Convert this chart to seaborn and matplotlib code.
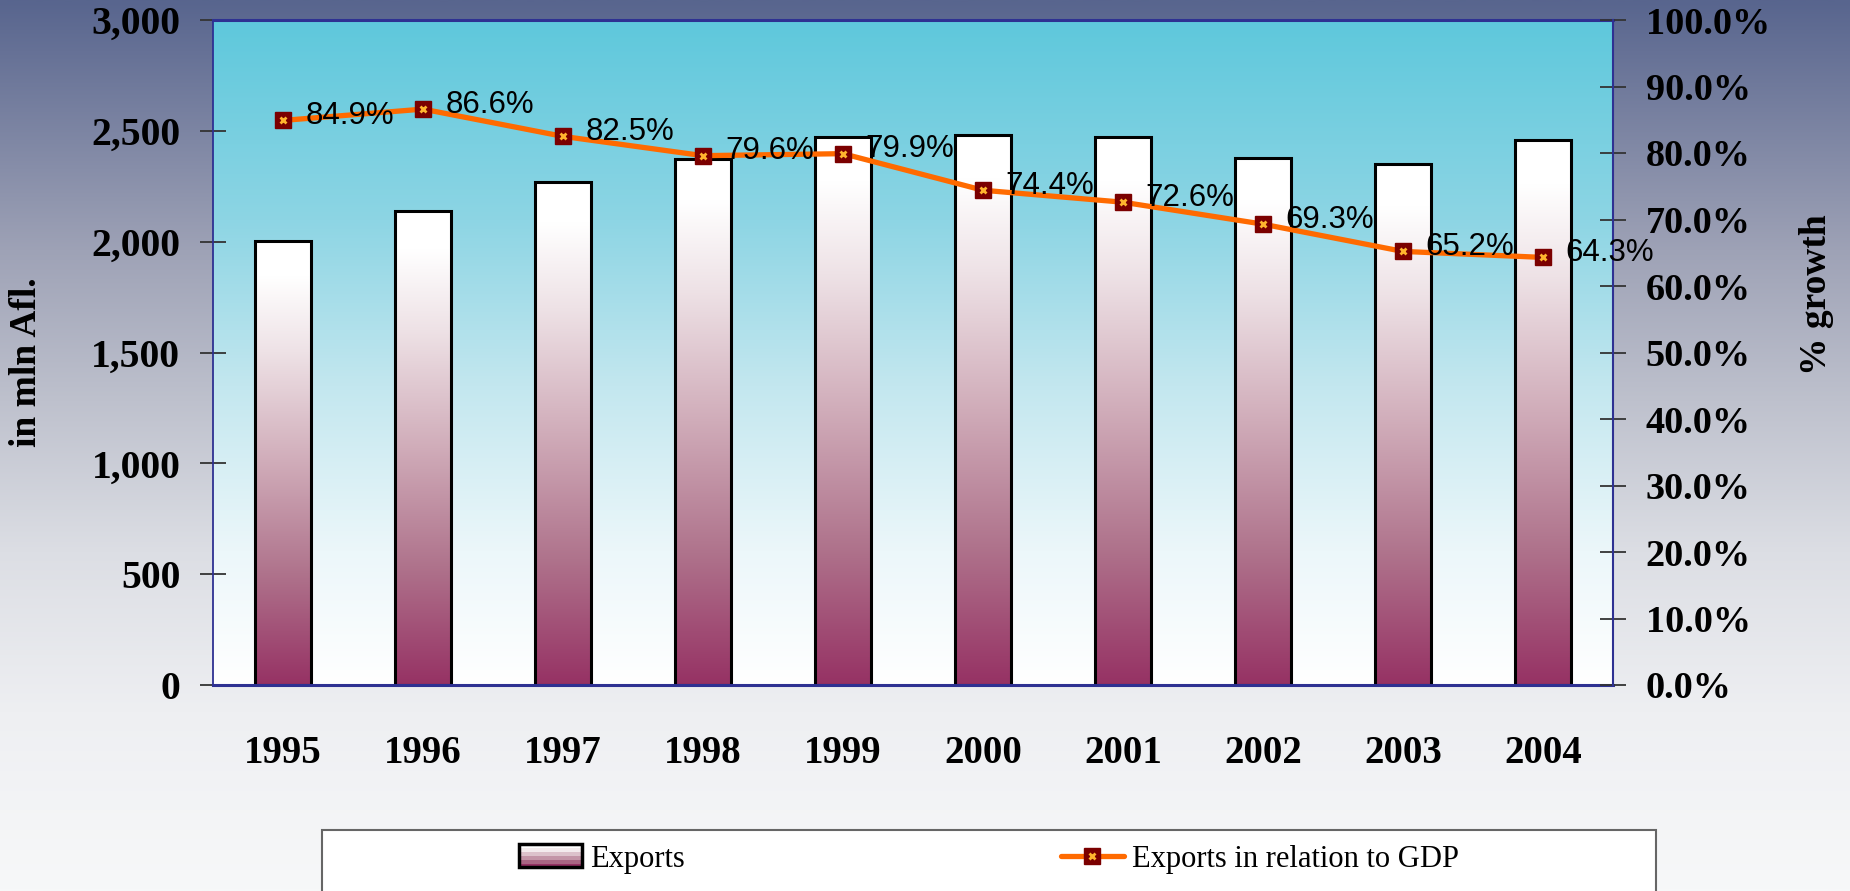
import numpy as np
import pandas as pd
import matplotlib
matplotlib.use("Agg")
import matplotlib.pyplot as plt
import seaborn as sns
from matplotlib.colors import LinearSegmentedColormap
from matplotlib.patches import Rectangle
from matplotlib.lines import Line2D
from matplotlib.legend_handler import HandlerBase, HandlerTuple
from matplotlib.ticker import StrMethodFormatter

# data
years = ['1995', '1996', '1997', '1998', '1999', '2000', '2001', '2002', '2003', '2004']
exports = [2005, 2137, 2268, 2375, 2472, 2483, 2472, 2377, 2350, 2458]
gdp_share = [84.9, 86.6, 82.5, 79.6, 79.9, 74.4, 72.6, 69.3, 65.2, 64.3]
left_ticks = [0, 500, 1000, 1500, 2000, 2500, 3000]
right_ticks = [0, 10, 20, 30, 40, 50, 60, 70, 80, 90, 100]
legend_labels = ['Exports', 'Exports in relation to GDP']

sns.set_style("white")
plt.rcParams['font.family'] = ['Liberation Serif', 'DejaVu Serif']
plt.rcParams['text.color'] = 'black'
plt.rcParams['xtick.color'] = 'black'
plt.rcParams['ytick.color'] = 'black'
plt.rcParams['xtick.labelcolor'] = 'black'
plt.rcParams['ytick.labelcolor'] = 'black'

# gradients
fig_cmap = LinearSegmentedColormap.from_list('figbg', [
    (0.0, '#58658e'), (0.28, '#9ea2b6'), (0.45, '#bec1cd'),
    (0.62, '#dcdee4'), (0.8, '#eeeff2'), (1.0, '#f7f8f9')])
plot_cmap = LinearSegmentedColormap.from_list('plotbg', [
    (0.0, '#5ec8dc'), (0.3, '#8dd5e4'), (0.55, '#c3e7ef'),
    (0.8, '#ecf7fa'), (1.0, '#ffffff')])
# 0 = bottom of bar, 1 = top
bar_cmap = LinearSegmentedColormap.from_list('bar', [
    (0.0, '#963264'), (0.25, '#af738c'), (0.5, '#d0acb9'),
    (0.75, '#eee2e6'), (0.92, '#ffffff'), (1.0, '#ffffff')])

fig_grad = fig_cmap(np.linspace(0, 1, 256))[:, None, :]
plot_grad = plot_cmap(np.linspace(0, 1, 256))[:, None, :]
bar_grad = bar_cmap(np.linspace(1, 0, 256))[:, None, :]

fig = plt.figure(figsize=(18.5, 8.91), dpi=100)

bg = fig.add_axes([0, 0, 1, 1], zorder=-3)
bg.imshow(fig_grad, aspect='auto', extent=[0, 1, 0, 1], interpolation='bilinear')
bg.axis('off')

rect = [213 / 1850, 1 - 685 / 891, 1400 / 1850, 665 / 891]
pbg = fig.add_axes(rect, zorder=-2)
pbg.imshow(plot_grad, aspect='auto', extent=[0, 1, 0, 1], interpolation='bilinear')
pbg.axis('off')

ax = fig.add_axes(rect)
ax.patch.set_visible(False)

df = pd.DataFrame({'Year': years, 'Exports': exports})
sns.barplot(data=df, x='Year', y='Exports', ax=ax, width=0.4, color='white',
            saturation=1, edgecolor='black', linewidth=2.2)

# fill each bar with the white -> maroon gradient
for p in list(ax.patches):
    x0, w, h = p.get_x(), p.get_width(), p.get_height()
    ax.imshow(bar_grad, extent=[x0, x0 + w, 0, h], aspect='auto',
              interpolation='bilinear', zorder=1.5)
    p.set_facecolor('none')
    p.set_zorder(2)

ax.set_xlim(-0.5, len(years) - 0.5)
ax.set_ylim(0, 3000)
ax.set_xlabel('')
ax.set_ylabel('')

ax.set_xticks(np.arange(len(years) + 1) - 0.5, labels=[''] * (len(years) + 1))
ax.set_xticks(range(len(years)), labels=years, minor=True)
ax.tick_params(axis='x', which='major', direction='inout', length=19, width=1.3, color='#333333')
ax.tick_params(axis='x', which='minor', length=0, pad=36, labelsize=28)
for t in ax.get_xticklabels(minor=True):
    t.set_fontweight('bold')

ax.set_yticks(left_ticks)
ax.yaxis.set_major_formatter(StrMethodFormatter('{x:,.0f}'))
ax.tick_params(axis='y', direction='inout', length=19, width=1.3, color='#333333',
               pad=14, labelsize=28.5)
for t in ax.get_yticklabels():
    t.set_fontweight('bold')

for side in ['top', 'left', 'bottom']:
    ax.spines[side].set_color('#2e3192')
ax.spines['top'].set_linewidth(2.2)
ax.spines['bottom'].set_linewidth(2.2)
ax.spines['left'].set_linewidth(1.3)
ax.spines['right'].set_visible(False)

ax2 = ax.twinx()
ax2.set_ylim(0, 100)
ax2.set_yticks(right_ticks)
ax2.yaxis.set_major_formatter(StrMethodFormatter('{x:.1f}%'))
ax2.tick_params(axis='y', direction='inout', length=19, width=1.3, color='#333333',
                pad=14, labelsize=27.5)
for t in ax2.get_yticklabels():
    t.set_fontweight('bold')
for side in ['top', 'left', 'bottom']:
    ax2.spines[side].set_visible(False)
ax2.spines['right'].set_color('#2e3192')
ax2.spines['right'].set_linewidth(1.5)

xpos = np.arange(len(years))
ax2.plot(xpos, gdp_share, color='#ff6a00', lw=3.8, marker='s', ms=11.5,
         mfc='#7b0000', mec='#7b0000', zorder=3)
ax2.plot(xpos, gdp_share, ls='none', marker='x', ms=5, mew=2, color='#ffb52e', zorder=4)

for i, v in enumerate(gdp_share):
    ax2.annotate(f'{v:.1f}%', xy=(i, v), xytext=(16, 3), textcoords='offset points',
                 ha='left', va='center', fontsize=22.5, color='black',
                 family=['Liberation Sans', 'DejaVu Sans'], zorder=5)

fig.text(26 / 1850, 1 - 362 / 891, 'in mln Afl.', rotation=90, ha='center', va='center',
         fontsize=27, fontweight='bold')
fig.text(1817 / 1850, 1 - 295 / 891, '% growth', rotation=90, ha='center', va='center',
         fontsize=27, fontweight='bold')


# legend
class GradHandler(HandlerBase):
    def create_artists(self, legend, orig_handle, xdescent, ydescent, width, height, fontsize, trans):
        arts = []
        n = 6
        for i in range(n):
            arts.append(Rectangle((-xdescent, -ydescent + height * i / n), width, height / n,
                                  facecolor=bar_cmap(i / (n - 1)), edgecolor='none', transform=trans))
        arts.append(Rectangle((-xdescent, -ydescent), width, height, fill=False,
                              edgecolor='black', lw=2.5, transform=trans))
        return arts


fig.patches.append(Rectangle((322 / 1850, -0.1), (1656 - 322) / 1850, 0.1 + (891 - 830) / 891,
                             transform=fig.transFigure, facecolor='white',
                             edgecolor='#666666', lw=1.5))

bar_h = Rectangle((0, 0), 1, 1)
line_h = Line2D([], [], color='#ff6a00', lw=3.8, marker='s', ms=11.5, mfc='#7b0000', mec='#7b0000')
x_h = Line2D([], [], ls='none', marker='x', ms=5, mew=2, color='#ffb52e')
fig.legend(handles=[bar_h, (line_h, x_h)], labels=legend_labels,
           handler_map={bar_h: GradHandler(), tuple: HandlerTuple(ndivide=1)},
           loc='center', bbox_to_anchor=(989 / 1850, 1 - 859 / 891), ncol=2, frameon=False,
           fontsize=22, handlelength=2.06, handleheight=0.78, handletextpad=0.26,
           columnspacing=12.3)

fig.savefig('out.png', dpi=100)
